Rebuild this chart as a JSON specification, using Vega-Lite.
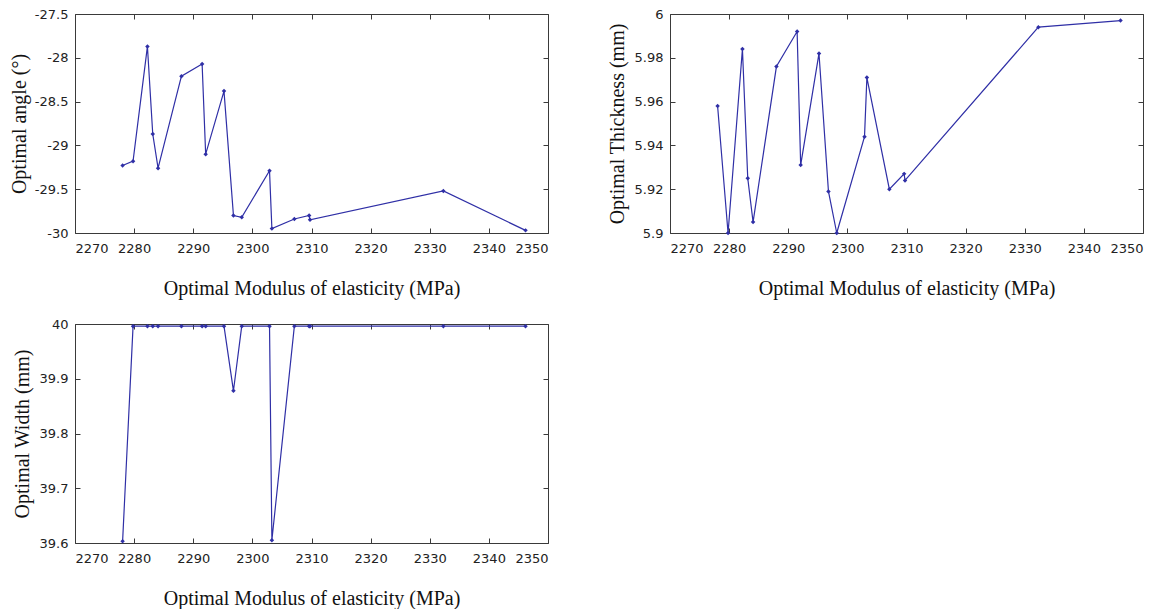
{
  "$schema": "https://vega.github.io/schema/vega-lite/v6.json",
  "padding": {"left": 8, "top": 7, "right": 0, "bottom": 0},
  "background": "white",
  "datasets": {
    "opt": [
      {"E": 2278.05, "angle": -29.23, "thick": 5.958, "width": 39.603},
      {"E": 2279.82, "angle": -29.18, "thick": 5.900, "width": 39.996},
      {"E": 2282.25, "angle": -27.87, "thick": 5.984, "width": 39.996},
      {"E": 2283.15, "angle": -28.87, "thick": 5.925, "width": 39.996},
      {"E": 2284.05, "angle": -29.26, "thick": 5.905, "width": 39.996},
      {"E": 2288.0, "angle": -28.21, "thick": 5.976, "width": 39.996},
      {"E": 2291.5, "angle": -28.07, "thick": 5.992, "width": 39.996},
      {"E": 2292.1, "angle": -29.1, "thick": 5.931, "width": 39.996},
      {"E": 2295.2, "angle": -28.38, "thick": 5.982, "width": 39.996},
      {"E": 2296.8, "angle": -29.8, "thick": 5.919, "width": 39.878},
      {"E": 2298.2, "angle": -29.82, "thick": 5.900, "width": 39.996},
      {"E": 2302.9, "angle": -29.29, "thick": 5.944, "width": 39.996},
      {"E": 2303.3, "angle": -29.95, "thick": 5.971, "width": 39.605},
      {"E": 2307.1, "angle": -29.84, "thick": 5.920, "width": 39.996},
      {"E": 2309.6, "angle": -29.8, "thick": 5.927, "width": 39.996},
      {"E": 2309.75, "angle": -29.85, "thick": 5.924, "width": 39.996},
      {"E": 2332.3, "angle": -29.52, "thick": 5.994, "width": 39.996},
      {"E": 2346.2, "angle": -29.97, "thick": 5.997, "width": 39.996}
    ]
  },
  "config": {
    "view": {"stroke": "#3a3a3a", "strokeWidth": 1},
    "axis": {
      "domain": false,
      "grid": false,
      "tickSize": -5,
      "tickColor": "#3a3a3a",
      "tickWidth": 1,
      "labelFont": "DejaVu Sans",
      "labelFontSize": 13,
      "labelColor": "#222222",
      "titleFont": "Liberation Serif",
      "titleFontSize": 20,
      "titleFontWeight": "normal",
      "titleColor": "#111111"
    },
    "line": {"color": "#2f2fa6", "strokeWidth": 1.2}
  },
  "columns": 2,
  "spacing": {"row": 91, "column": 122},
  "bounds": "flush",
  "concat": [
    {
      "width": 473,
      "height": 219,
      "data": {"name": "opt"},
      "layer": [
        {
          "mark": {"type": "line", "point": {"filled": true, "size": 20, "shape": "diamond", "color": "#2f2fa6"}},
          "encoding": {
            "x": {"field": "E", "type": "quantitative", "scale": {"domain": [2270, 2350], "nice": false, "zero": false},
              "axis": {"orient": "bottom", "values": [2270, 2280, 2290, 2300, 2310, 2320, 2330, 2340, 2350], "format": "d", "labelPadding": 14, "title": "Optimal Modulus of elasticity (MPa)", "titleBaseline": "middle", "titleX": 236.5, "titleY": 55}},
            "y": {"field": "angle", "type": "quantitative", "scale": {"domain": [-30, -27.5], "nice": false, "zero": false},
              "axis": {"orient": "left", "values": [-30, -29.5, -29, -28.5, -28, -27.5], "labelExpr": "datum.value < 0 ? '-' + format(-datum.value, '.1~f') : format(datum.value, '.1~f')", "labelPadding": 12, "title": "Optimal angle (°)", "titleBaseline": "middle", "titleX": -56, "titleY": 109.5}}
          }
        },
        {
          "mark": {"type": "line", "opacity": 0},
          "encoding": {
            "x": {"field": "E", "type": "quantitative", "scale": {"domain": [2270, 2350], "nice": false, "zero": false},
              "axis": {"orient": "top", "values": [2270, 2280, 2290, 2300, 2310, 2320, 2330, 2340, 2350], "labels": false, "title": null}},
            "y": {"field": "angle", "type": "quantitative", "scale": {"domain": [-30, -27.5], "nice": false, "zero": false},
              "axis": {"orient": "right", "values": [-30, -29.5, -29, -28.5, -28, -27.5], "labels": false, "title": null}}
          }
        }
      ],
      "resolve": {"axis": {"x": "independent", "y": "independent"}}
    },
    {
      "width": 473,
      "height": 219,
      "data": {"name": "opt"},
      "layer": [
        {
          "mark": {"type": "line", "point": {"filled": true, "size": 20, "shape": "diamond", "color": "#2f2fa6"}},
          "encoding": {
            "x": {"field": "E", "type": "quantitative", "scale": {"domain": [2270, 2350], "nice": false, "zero": false},
              "axis": {"orient": "bottom", "values": [2270, 2280, 2290, 2300, 2310, 2320, 2330, 2340, 2350], "format": "d", "labelPadding": 14, "title": "Optimal Modulus of elasticity (MPa)", "titleBaseline": "middle", "titleX": 236.5, "titleY": 55}},
            "y": {"field": "thick", "type": "quantitative", "scale": {"domain": [5.9, 6], "nice": false, "zero": false},
              "axis": {"orient": "left", "values": [5.9, 5.92, 5.94, 5.96, 5.98, 6], "format": ".2~f", "labelPadding": 12, "title": "Optimal Thickness (mm)", "titleBaseline": "middle", "titleX": -53, "titleY": 109.5}}
          }
        },
        {
          "mark": {"type": "line", "opacity": 0},
          "encoding": {
            "x": {"field": "E", "type": "quantitative", "scale": {"domain": [2270, 2350], "nice": false, "zero": false},
              "axis": {"orient": "top", "values": [2270, 2280, 2290, 2300, 2310, 2320, 2330, 2340, 2350], "labels": false, "title": null}},
            "y": {"field": "thick", "type": "quantitative", "scale": {"domain": [5.9, 6], "nice": false, "zero": false},
              "axis": {"orient": "right", "values": [5.9, 5.92, 5.94, 5.96, 5.98, 6], "labels": false, "title": null}}
          }
        }
      ],
      "resolve": {"axis": {"x": "independent", "y": "independent"}}
    },
    {
      "width": 473,
      "height": 219,
      "data": {"name": "opt"},
      "layer": [
        {
          "mark": {"type": "line", "point": {"filled": true, "size": 20, "shape": "diamond", "color": "#2f2fa6"}},
          "encoding": {
            "x": {"field": "E", "type": "quantitative", "scale": {"domain": [2270, 2350], "nice": false, "zero": false},
              "axis": {"orient": "bottom", "values": [2270, 2280, 2290, 2300, 2310, 2320, 2330, 2340, 2350], "format": "d", "labelPadding": 14, "title": "Optimal Modulus of elasticity (MPa)", "titleBaseline": "middle", "titleX": 236.5, "titleY": 55}},
            "y": {"field": "width", "type": "quantitative", "scale": {"domain": [39.6, 40], "nice": false, "zero": false},
              "axis": {"orient": "left", "values": [39.6, 39.7, 39.8, 39.9, 40], "format": ".1~f", "labelPadding": 12, "title": "Optimal Width (mm)", "titleBaseline": "middle", "titleX": -53, "titleY": 109.5}}
          }
        },
        {
          "mark": {"type": "line", "opacity": 0},
          "encoding": {
            "x": {"field": "E", "type": "quantitative", "scale": {"domain": [2270, 2350], "nice": false, "zero": false},
              "axis": {"orient": "top", "values": [2270, 2280, 2290, 2300, 2310, 2320, 2330, 2340, 2350], "labels": false, "title": null}},
            "y": {"field": "width", "type": "quantitative", "scale": {"domain": [39.6, 40], "nice": false, "zero": false},
              "axis": {"orient": "right", "values": [39.6, 39.7, 39.8, 39.9, 40], "labels": false, "title": null}}
          }
        }
      ],
      "resolve": {"axis": {"x": "independent", "y": "independent"}}
    }
  ]
}
